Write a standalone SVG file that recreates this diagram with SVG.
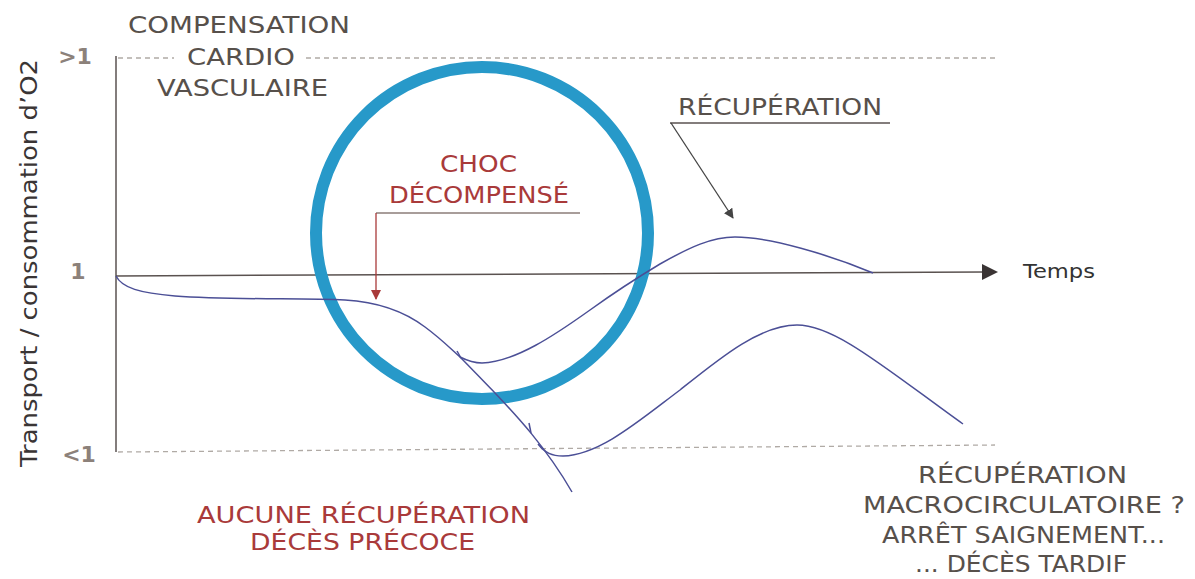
<svg xmlns="http://www.w3.org/2000/svg" width="1195" height="579" viewBox="0 0 1195 579">
<style>
.t{font-family:"DejaVu Sans","Liberation Sans",sans-serif;font-size:23px;}
.gray{fill:#57504b;}
.red{fill:#a93a3a;}
.tick{font-family:"DejaVu Sans","Liberation Sans",sans-serif;font-size:22px;font-weight:bold;fill:#8c817a;}
.curve{fill:none;stroke:#4b4f96;stroke-width:1.5;}
.dash{fill:none;stroke:#b0aaa5;stroke-width:1.3;stroke-dasharray:5 4;}
.axis{fill:none;stroke:#5a5250;stroke-width:1.5;}
</style>
<defs>
<marker id="ah" viewBox="0 0 10 10" refX="9" refY="5" markerWidth="10" markerHeight="10" markerUnits="userSpaceOnUse" orient="auto">
<path d="M0,0 L10,5 L0,10 Z" fill="#444"/>
</marker>
<marker id="ahr" viewBox="0 0 10 10" refX="9" refY="5" markerWidth="10" markerHeight="10" markerUnits="userSpaceOnUse" orient="auto">
<path d="M0,0 L10,5 L0,10 Z" fill="#a93a3a"/>
</marker>
</defs>
<rect width="1195" height="579" fill="#ffffff"/>

<g id="gridlines">
<line class="dash" x1="118" y1="58" x2="174" y2="58"/>
<line class="dash" x1="306" y1="58" x2="995" y2="58"/>
<line class="dash" x1="118" y1="452" x2="995" y2="445"/>
</g>

<g id="axes">
<line class="axis" x1="116" y1="56" x2="116" y2="452"/>
<line class="axis" x1="116" y1="276" x2="984" y2="272"/>
<path d="M982,264 L998,272 L982,280 Z" fill="#3a3434"/>
</g>

<g id="ring">
<circle cx="482" cy="233" r="166" fill="none" stroke="#2799c9" stroke-width="12"/>
</g>

<g id="connectors">
<path class="curve" d="M116,276 C122,288 140,293 175,296 C230,300 300,298 345,300 C380,302 405,312 425,327 C440,338 450,348 460,357 C472,369 485,383 495,393 C512,411 545,445 572,492"/>
<path class="curve" d="M460,357 C468,361 474,363 482,363 C515,362 555,335 590,310 C615,292 640,276 660,264 C690,247 712,237 735,237 C770,237 830,255 873,273"/>
<path class="curve" d="M538,444 C545,453 552,456 563,456 C600,455 640,420 680,390 C720,358 760,325 797,325 C835,325 885,368 963,424"/>
<path class="curve" d="M457,351 L461,358"/>
<path class="curve" d="M529,423 L531,433"/>
<line x1="376" y1="213" x2="580" y2="213" stroke="#8b7d78" stroke-width="1.3"/>
<line x1="376" y1="213" x2="376" y2="299" stroke="#a93a3a" stroke-width="1.3" marker-end="url(#ahr)"/>
<line x1="670" y1="123" x2="890" y2="123" stroke="#5a5250" stroke-width="1.3"/>
<line x1="671" y1="123" x2="733" y2="218" stroke="#444" stroke-width="1.3" marker-end="url(#ah)"/>
</g>

<g id="ylabels">
<text class="tick" x="75" y="64" text-anchor="middle">&gt;1</text>
<text class="tick" x="78" y="279" text-anchor="middle">1</text>
<text class="tick" x="79" y="462" text-anchor="middle">&lt;1</text>
<text class="t" fill="#3a3535" transform="translate(37,467) rotate(-90)" textLength="408" lengthAdjust="spacingAndGlyphs">Transport / consommation d’O2</text>
</g>

<g id="compensation">
<text class="t gray" x="128" y="33" textLength="222" lengthAdjust="spacingAndGlyphs">COMPENSATION</text>
<text class="t gray" x="187" y="65" textLength="108" lengthAdjust="spacingAndGlyphs">CARDIO</text>
<text class="t gray" x="157" y="96" textLength="171" lengthAdjust="spacingAndGlyphs">VASCULAIRE</text>
</g>

<g id="choc">
<text class="t red" x="440" y="172" textLength="77" lengthAdjust="spacingAndGlyphs">CHOC</text>
<text class="t red" x="389" y="203" textLength="180" lengthAdjust="spacingAndGlyphs">DÉCOMPENSÉ</text>
</g>

<g id="recuperation">
<text class="t gray" x="678" y="115" textLength="204" lengthAdjust="spacingAndGlyphs">RÉCUPÉRATION</text>
</g>

<g id="temps">
<text x="1023" y="278" font-family="DejaVu Sans, Liberation Sans, sans-serif" font-size="20" fill="#333" textLength="72" lengthAdjust="spacingAndGlyphs">Temps</text>
</g>

<g id="deces-precoce">
<text class="t red" x="197" y="523" textLength="333" lengthAdjust="spacingAndGlyphs">AUCUNE RÉCUPÉRATION</text>
<text class="t red" x="250" y="550" textLength="225" lengthAdjust="spacingAndGlyphs">DÉCÈS PRÉCOCE</text>
</g>

<g id="deces-tardif">
<text class="t gray" x="918" y="483" textLength="209" lengthAdjust="spacingAndGlyphs">RÉCUPÉRATION</text>
<text class="t gray" x="863" y="513" textLength="322" lengthAdjust="spacingAndGlyphs">MACROCIRCULATOIRE ?</text>
<text class="t gray" x="882" y="543" textLength="283" lengthAdjust="spacingAndGlyphs">ARRÊT SAIGNEMENT...</text>
<text class="t gray" x="915" y="572" textLength="212" lengthAdjust="spacingAndGlyphs">... DÉCÈS TARDIF</text>
</g>
</svg>
